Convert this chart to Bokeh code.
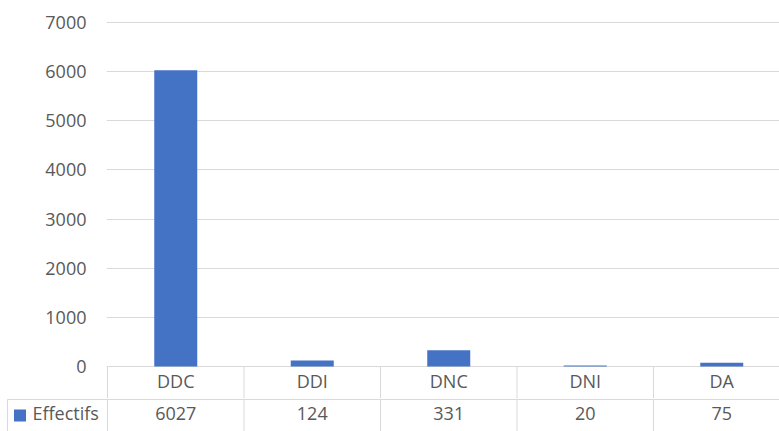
from bokeh.plotting import figure
from bokeh.layouts import column
from bokeh.models import Range1d, FixedTicker
from bokeh.core.properties import value
from bokeh.embed import file_html
from bokeh.resources import INLINE

# ---- data ----
categories = ["DDC", "DDI", "DNC", "DNI", "DA"]
effectifs = [6027, 124, 331, 20, 75]
y_ticks = [0, 1000, 2000, 3000, 4000, 5000, 6000, 7000]
series_name = "Effectifs"

# ---- style ----
FONT = "Open Sans"
FONT_SIZE = "18px"
TEXT_COLOR = "#595959"
GRID_COLOR = "#d9d9d9"
BAR_COLOR = "#4472c4"

# ---- layout (pixels) ----
FIG_W = 779
TOP_H = 398           # chart part (incl. category row)
BOT_H = 33            # value row part
ZERO_X = 107          # x of first category boundary
LEFT = 106            # frame left of chart part
TABLE_LEFT = 7        # x of table's left border
PX_PER_CAT = 136.5
ZERO_Y = 366          # y of the zero line
PX_PER_UNIT = 344 / 7000
ROW1_PX = 33
ROW1_TEXT_PX = 14.5   # text centre below zero line
ROW2_TEXT_PX = 46.5
KEY_X_PX, KEY_Y_PX = 19.5, 49      # legend key centre (x from left, y below zero line)
KEY_LABEL_X_PX = 32
BAR_W = 0.315

k = PX_PER_UNIT
x_end = (FIG_W - ZERO_X) / PX_PER_CAT
x_start_top = -(ZERO_X - LEFT) / PX_PER_CAT
x_start_bot = -ZERO_X / PX_PER_CAT
x_table_left = -(ZERO_X - TABLE_LEFT) / PX_PER_CAT

y_end_top = ZERO_Y / k
y_start_top = -(TOP_H - ZERO_Y) / k
y_end_bot = y_start_top
y_start_bot = -(TOP_H + BOT_H - ZERO_Y) / k
row1_mid = -ROW1_TEXT_PX / k
row_div = -ROW1_PX / k
row2_mid = -ROW2_TEXT_PX / k

xs = [i + 0.5 for i in range(len(categories))]
bounds = list(range(len(categories) + 1))
n_b = len(bounds)

# ---- chart ----
p = figure(width=FIG_W, height=TOP_H,
           x_range=Range1d(x_start_top, x_end), y_range=Range1d(y_start_top, y_end_top),
           x_axis_location=None, output_backend="svg", toolbar_location=None,
           min_border_left=LEFT, min_border_right=0, min_border_top=0, min_border_bottom=0,
           frame_align=False)
p.outline_line_color = None
p.xgrid.visible = False

p.yaxis.ticker = FixedTicker(ticks=y_ticks)
p.yaxis.axis_line_color = None
p.yaxis.major_tick_line_color = None
p.yaxis.minor_tick_line_color = None
p.yaxis.major_tick_out = 0
p.yaxis.major_tick_in = 0
p.yaxis.major_label_standoff = 20
p.yaxis.major_label_text_font = FONT
p.yaxis.major_label_text_font_size = FONT_SIZE
p.yaxis.major_label_text_color = TEXT_COLOR
p.ygrid.grid_line_color = GRID_COLOR
p.ygrid.grid_line_width = 1

bars = p.vbar(x=xs, top=effectifs, bottom=0, width=BAR_W,
              fill_color=BAR_COLOR, line_color=None)

# category row of the data table
p.segment(x0=bounds, y0=[0] * n_b, x1=bounds, y1=[y_start_top] * n_b,
          line_color=GRID_COLOR, line_width=1)
p.text(x=xs, y=[row1_mid] * len(xs), text=categories,
       text_font=value(FONT), text_font_size=FONT_SIZE, text_color=TEXT_COLOR,
       text_align="center", text_baseline="middle")

# ---- value row of the data table ----
t = figure(width=FIG_W, height=BOT_H,
           x_range=Range1d(x_start_bot, x_end), y_range=Range1d(y_start_bot, y_end_bot),
           x_axis_location=None, y_axis_location=None,
           output_backend="svg", toolbar_location=None,
           min_border_left=0, min_border_right=0, min_border_top=0, min_border_bottom=0,
           frame_align=False)
t.outline_line_color = None
t.grid.visible = False

t.segment(x0=bounds, y0=[y_end_bot] * n_b, x1=bounds, y1=[y_start_bot] * n_b,
          line_color=GRID_COLOR, line_width=1)
t.segment(x0=[x_table_left, x_table_left], y0=[row_div, row_div],
          x1=[x_end, x_table_left], y1=[row_div, y_start_bot],
          line_color=GRID_COLOR, line_width=1)
t.text(x=xs, y=[row2_mid] * len(xs), text=[str(v) for v in effectifs],
       text_font=value(FONT), text_font_size=FONT_SIZE, text_color=TEXT_COLOR,
       text_align="center", text_baseline="middle")

# legend key of the series
key_x = -(ZERO_X - KEY_X_PX) / PX_PER_CAT
key_label_x = -(ZERO_X - KEY_LABEL_X_PX) / PX_PER_CAT
t.scatter(x=[key_x], y=[-KEY_Y_PX / k], marker="square", size=12,
          fill_color=BAR_COLOR, line_color=None)
t.text(x=[key_label_x], y=[row2_mid], text=[series_name],
       text_font=value(FONT), text_font_size=FONT_SIZE, text_color=TEXT_COLOR,
       text_align="left", text_baseline="middle")

layout = column(p, t, spacing=0)
open("out.html", "w").write(file_html(layout, INLINE))
